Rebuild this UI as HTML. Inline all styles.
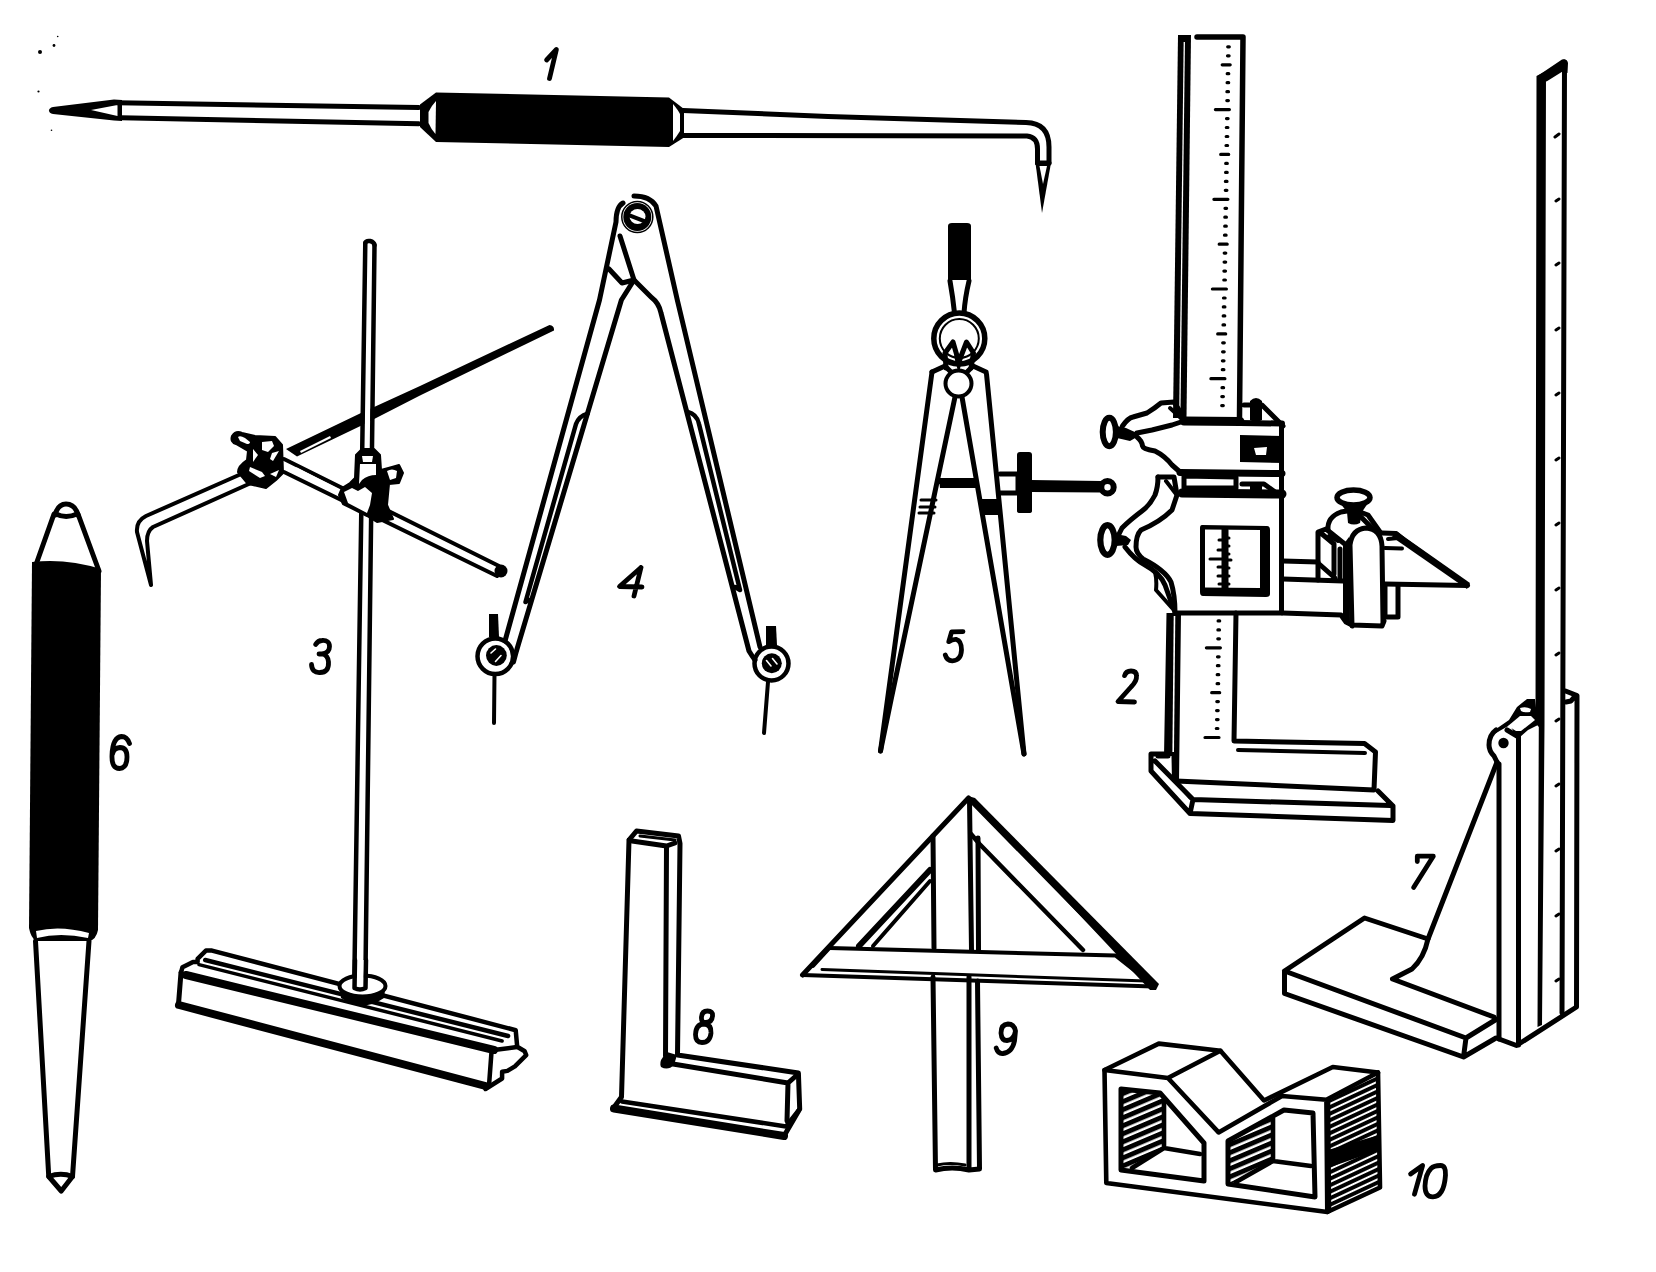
<!DOCTYPE html>
<html><head><meta charset="utf-8">
<style>
html,body{margin:0;padding:0;background:#fff;width:1656px;height:1272px;overflow:hidden}
svg{display:block}
.s{fill:none;stroke:#000;stroke-width:5;stroke-linecap:round;stroke-linejoin:round}
.m{fill:none;stroke:#000;stroke-width:4;stroke-linecap:round;stroke-linejoin:round}
.t{fill:none;stroke:#000;stroke-width:3;stroke-linecap:round;stroke-linejoin:round}
.f{fill:#000;stroke:none}
.fs{fill:#000;stroke:#000;stroke-width:2;stroke-linejoin:round}
.w{fill:#fff;stroke:none}
.ws{fill:#fff;stroke:#000;stroke-width:4;stroke-linejoin:round}
.lab{font-family:"Liberation Sans",sans-serif;font-style:italic;font-size:44px;fill:#000}
</style></head>
<body>
<svg width="1656" height="1272" viewBox="0 0 1656 1272">
<rect width="1656" height="1272" fill="#fff"/>

<!-- ============ 1: scriber ============ -->
<g id="t1">
  <path class="f" d="M53,107 L114,99.5 L122,100 L122,121 L114,120.5 L53,114 Q49,113 49,110.5 Q49,108 53,107 Z"/>
  <path class="w" d="M91,110 L117.5,105 L117.5,116 Z"/>
  <circle class="f" cx="40" cy="52" r="2"/><circle class="f" cx="54" cy="45.5" r="1.4"/><circle class="f" cx="57.7" cy="36.5" r="0.8"/><circle class="f" cx="38.5" cy="91.5" r="1.1"/><circle class="f" cx="51.5" cy="130.3" r="0.8"/>
  <path class="s" d="M117,102.7 L419,107.5 M121,117.7 L419,123.75"/>
  <path class="f" d="M420,104.5 L436,92.5 L669,97.5 L684,109 L684,137.5 L669,147 L436,142 L420,127 Z"/>
  <path class="w" d="M428.5,112 Q432,105 436,101 L435.5,134 Q431,129 428.5,123 Z"/>
  <path class="w" d="M673,104 Q678,110 680,114 L680,131 Q677,136 673,141 Z"/>
  <path class="s" d="M683,110.5 L828,116.5 L1026,122.5 Q1049,123 1049,147 L1049,163"/>
  <path class="s" d="M683,135.5 L1027,136 Q1037.5,137 1037.5,149 L1037.5,163"/>
  <path class="s" d="M1037.5,163 L1049,163"/>
  <path class="f" d="M1035.5,163 L1051,163 L1042,213 Z"/>
  <path class="w" d="M1039.5,166 L1047,166 L1043,184 Z"/>
</g>

<!-- ============ 6: center punch ============ -->
<g id="t6">
  <path class="s" d="M55,515 Q58,504 66,504 Q75,504 78,515"/>
  <path class="s" d="M56,514 Q66,519 77,514"/>
  <path class="s" d="M54,514 L35.5,566 M78,514 L99,571"/>
  <path class="f" d="M32,562 Q66,558 101,569 L98,930 Q96,940 89,941 L36,941 Q31,938 29,928 Z"/>
  <path class="w" d="M36,931 Q60,925 89,933 L88,938 Q60,932 37,938 Z"/>
  <path class="s" d="M35.5,941 L48.75,1176.5 L61.25,1191 L72.5,1176.5 L89,941"/>
  <path class="s" d="M48.75,1176.5 Q61,1172 72.5,1176.5"/>
</g>

<!-- ============ 3: surface gauge ============ -->
<g id="t3">
  <!-- rod -->
  <!-- needle -->
  <path class="f" d="M549.5,325 Q554.5,325.5 554,330.5 L420,395.5 L361,425.8 L297,456.5 L286,449 L361,413 L420,386 Z"/>
  <path class="w" d="M300,451 L330,436 L331,438 L301,453 Z"/>
  <path class="w" d="M367,244 L356.5,988 L363.5,988 L372.5,244 Z"/>
  <path class="s" style="stroke-width:4.5" d="M365.3,243 L354.2,988 M374.5,245 L365.3,988"/>
  <path class="s" style="stroke-width:4.5" d="M365.3,243 Q366,240.5 370,241 Q374,242 374.5,245"/>
  <!-- lower leg -->
  <path class="m" d="M284,459 L499,566 M284,472 L497,576"/>
  <circle class="f" cx="501" cy="571" r="6.5"/>
  <path class="w" d="M296,467 L490,567 L491,569 L297,469Z"/>
  <!-- left leg -->
  <path class="m" d="M248,471 L146,516 Q136,521 137,532 L151,585 M251,483 L153,527 Q147,531 147,541 L151,585"/>
  <!-- clamp nut -->
  <path class="fs" d="M242,433 Q236,430 232,436 Q230,442 236,444 L248,451 L247,460 Q238,466 238,472 L248,484 L266,488 L276,480 L283,473 L282,445 L275,437 L255,436 Z"/>
  <path class="w" d="M238,437 Q240,435 245,438 L250,442 Q250,444 247,444 L240,441 Z"/>
  <path class="w" d="M262,442 L272,441 L274,446 L268,452 L262,450 Z"/>
  <path class="w" d="M253,449 L258,455 L253,462 Z"/>
  <path class="w" d="M272,453 L279,451 L273,461 L270,459 Z"/>
  <path class="w" d="M250,467 L262,472 L265,476 L260,478 L249,471 Z"/>
  <path class="w" d="M270,474 L279,470 L276,477 Z"/>
  <!-- joint on rod -->
  <path class="fs" d="M356,455 L362,449 L374,449 L380,455 L381,470 L392,467 L399,465 L403,473 L399,483 L389,484 L387,505 L393,519 L377,522 L367,516 L343,504 L339,495 L342,488 L350,483 L355,478 Z"/>
  <path class="w" d="M360,464 L376,464 L376,475 Q368,475 362,480 L359,484 Z"/>
  <path class="w" d="M344,492 L352,488 L358,491 L365,487 L372,493 L370,505 L367,513 L348,503 Z"/>
  <path class="w" d="M387,471 Q392,468 397,471 L396,478 L390,480 Z"/>
  <path class="w" d="M362,456 L373,456 L372,462 L363,462Z"/>
  <!-- base -->
  <path class="s" style="stroke-width:4.5" d="M181,972.5 L182.5,967.2 L193,961.9 L197.6,961.9 L197.6,958.9 L205.9,950.6 L212,950.6 L515.7,1030.2 L517.2,1046.8 L524.7,1051.3 L526.2,1055.1 L514.9,1066.4 L507.4,1070.9 L502.1,1071.7 L502.1,1078.5 L485.5,1089"/>
  <path class="s" style="stroke-width:5" d="M181,972.5 L178.5,1004"/>
  <path class="s" style="stroke-width:8" d="M179,1005 L485.5,1086"/>
  <path class="s" style="stroke-width:8" d="M186,975 L494,1050"/>
  <path class="s" style="stroke-width:4.5" d="M491.5,1052 L489.2,1083 M494,1050 L517,1047"/>
  <path class="s" style="stroke-width:4.5" d="M205.2,960 L508.1,1036"/>
  <path class="s" style="stroke-width:3.5" d="M199,964.6 L502.1,1041"/>
  <!-- disc -->
  <path class="f" d="M339.5,986 L341,998 Q362,1013 384,998 L385.5,986 Q362,1000 339.5,986 Z"/>
  <ellipse class="ws" cx="362.5" cy="986" rx="23" ry="10.5"/>
  <path class="w" d="M357,960 L356.2,988 L363.5,988 L364.3,960 Z"/><path class="s" style="stroke-width:4.5" d="M355,960 L354.5,988 Q360,991 365.5,988 L366,960"/>
  
</g>

<!-- ============ 4: dividers ============ -->
<g id="t4">
  <circle class="f" cx="637.3" cy="217" r="14"/>
  <circle class="t" cx="637.3" cy="217" r="15.5" style="stroke-width:1.5"/>
  <ellipse class="w" cx="637.5" cy="216.5" rx="8" ry="7.5"/>
  <path class="f" d="M629,213 L647,220 L646,224 L628,217Z"/>
  <path class="s" d="M623,203 Q616,207 616,222 L599.5,300 L505,641"/>
  <path class="s" d="M634,196 Q650,196 656,206 L677.3,300 L760,647"/>
  <path class="s" d="M620,236 L634,280 L621.4,300 L518.5,644 Q516,652 513.5,662"/>
  <path class="s" d="M609,269 L622,283 L634,280"/>
  <path class="s" d="M634,280 L651,297 Q659,303 661,313 L749,651 Q752,656 755,660"/>
  <path class="s" style="stroke-width:4.5" d="M587.6,413.6 Q579,416 576,424 L525.5,602 L529,600"/>
  <path class="s" style="stroke-width:4.5" d="M687.2,411.6 Q697,414 699,424 L740,590 L735,587"/>
  <!-- feet -->
  <circle class="s" style="stroke-width:4.5" cx="495.3" cy="656.3" r="17.8"/>
  <circle class="f" cx="496.4" cy="655.5" r="10.4"/>
  <path d="M491,653 L495.5,649 M495.5,661.5 L501,655.5" stroke="#fff" stroke-width="1.6" stroke-linecap="round"/>
  <path class="f" d="M489,614 L498,614 L499,637 L489,637 Z"/>
  <path class="m" d="M494.5,674 L494,723"/>
  <circle class="s" style="stroke-width:4.5" cx="771.5" cy="663.5" r="17"/>
  <circle class="f" cx="771.8" cy="663.3" r="10"/>
  <path d="M766.5,660.5 L771,666 M772.5,658.5 L777,664" stroke="#fff" stroke-width="1.6" stroke-linecap="round"/>
  <path class="f" d="M766,626 L776,626 L777,645 L766,645 Z"/>
  <path class="m" d="M768,682 L764,733"/>
</g>

<!-- ============ 5: spring dividers ============ -->
<g id="t5">
  <path class="f" d="M948,226 Q948,223 952,223 L967,223 Q971,223 971,226 L971,280 L948,280 Z"/>
  <path class="s" d="M950,281 Q953,298 954.5,313 M969,281 Q965,298 964,313"/>
  <circle class="s" style="stroke-width:5.5" cx="959.3" cy="338.5" r="25.5"/>
  <circle class="t" style="stroke-width:2" cx="959.3" cy="338.5" r="19.5"/>
  <path class="s" d="M946,368 L945,353 L953,342 L958.8,362 L966.5,342 L973.5,353 L971,368"/><path class="f" d="M953,342 L958.8,362 L966.5,342 L962,360 L958.8,374 L955,360 Z"/>
  <path class="s" d="M932,372 L945,366 L951,372 M986,372 L973,366 L967,372"/>
  <circle class="ws" cx="958.5" cy="383.5" r="13"/>
  <path class="s" d="M932,372 L880.5,751 M986.5,374 L1024,754"/>
  <path class="s" d="M955,397 L891,700 L880.5,751 M962,397 L1024,754"/>
  <path class="s" d="M941,482 L975,482"/>
  <path class="f" d="M939,478 L976,478 L977,488 L940,488 Z"/>
  <path class="m" style="stroke-width:3" d="M921,500 L936,500 M920,507 L935,507 M919,513 L934,513"/>
  <path class="f" d="M981,499 L999,499 L1001,515 L983,515 Z"/>
  <path class="s" d="M1000,474 L1018,474 L1018,493 L1000,493"/>
  <path class="f" d="M1017,455 Q1017,452 1020,452 L1029,452 Q1032,452 1032,455 L1032,511 Q1032,513 1029,513 L1020,513 Q1017,513 1017,511 Z"/>
  <path class="f" d="M1031,480 L1101,481 L1101,492.5 L1031,492 Z"/>
  <circle class="s" style="stroke-width:6" cx="1107.5" cy="487.2" r="6.2"/>
</g>


<!-- ============ 2: height gauge ============ -->
<g id="t2">
  <!-- column upper -->
  <path class="f" d="M1178,35 L1191,35 L1186.5,418 L1173,418 Z"/><path d="M1184.3,42 L1179.8,416" stroke="#fff" stroke-width="1.3"/>
  <path class="t" style="stroke-width:3.2;stroke-linecap:round" d="M1227.7,46.8 L1229.3,46.8 M1227.5,55.8 L1229.1,55.8 M1222.2,64.8 L1230.2,64.8 M1227.2,73.7 L1228.8,73.7 M1227.1,82.7 L1228.7,82.7 M1226.9,91.7 L1228.5,91.7 M1226.8,100.6 L1228.4,100.6 M1215.4,109.6 L1229.4,109.6 M1226.5,118.6 L1228.1,118.6 M1226.3,127.5 L1227.9,127.5 M1226.2,136.5 L1227.8,136.5 M1226.0,145.5 L1227.6,145.5 M1220.7,154.4 L1228.7,154.4 M1225.7,163.4 L1227.3,163.4 M1225.6,172.4 L1227.2,172.4 M1225.4,181.4 L1227.0,181.4 M1225.3,190.3 L1226.9,190.3 M1213.9,199.3 L1227.9,199.3 M1225.0,208.3 L1226.6,208.3 M1224.8,217.2 L1226.4,217.2 M1224.7,226.2 L1226.3,226.2 M1224.5,235.2 L1226.1,235.2 M1219.2,244.2 L1227.2,244.2 M1224.2,253.1 L1225.8,253.1 M1224.1,262.1 L1225.7,262.1 M1223.9,271.1 L1225.5,271.1 M1223.8,280.0 L1225.4,280.0 M1212.4,289.0 L1226.4,289.0 M1223.5,298.0 L1225.1,298.0 M1223.3,306.9 L1224.9,306.9 M1223.2,315.9 L1224.8,315.9 M1223.0,324.9 L1224.6,324.9 M1217.7,333.9 L1225.7,333.9 M1222.7,342.8 L1224.3,342.8 M1222.6,351.8 L1224.2,351.8 M1222.4,360.8 L1224.0,360.8 M1222.3,369.7 L1223.9,369.7 M1210.9,378.7 L1224.9,378.7 M1222.0,387.7 L1223.6,387.7 M1221.8,396.6 L1223.4,396.6 M1221.7,405.6 L1223.3,405.6 M1218.1,620.9 L1219.7,620.9 M1217.9,629.9 L1219.5,629.9 M1217.8,638.8 L1219.4,638.8 M1206.4,647.8 L1220.4,647.8 M1217.5,656.8 L1219.1,656.8 M1217.4,665.7 L1219.0,665.7 M1217.2,674.7 L1218.8,674.7 M1217.1,683.7 L1218.7,683.7 M1211.7,692.7 L1219.7,692.7 M1216.8,701.6 L1218.4,701.6 M1216.6,710.6 L1218.2,710.6 M1216.5,719.6 L1218.1,719.6 M1216.3,728.5 L1217.9,728.5 M1205.0,737.5 L1219.0,737.5"/>
  <path class="s" style="stroke-width:5.5" d="M1197,37 L1243,37 L1239.5,418"/>
  
  <!-- column lower -->
  <path class="f" d="M1166.5,613 L1181,613 L1179,782 L1172,782 L1171.5,756 L1164,756 Z"/><path d="M1174.5,616 L1173.2,752" stroke="#fff" stroke-width="1.6"/><path class="s" d="M1236,613 L1234,741 L1364.5,743.5 L1375.5,752 L1374,790 L1176,781"/>
  <path class="m" d="M1238,750 L1365,753"/>
  <!-- base -->
  <path class="s" d="M1151,754 L1164,754 M1151,754 L1151,771 L1190,813.5 L1393,820.5 L1393,806 L1378,791 M1193,799.5 L1390,805.5 L1393,806 M1193,799.5 L1190,813.5 M1155,761 L1193,799.5 M1158,756 L1168,756"/>
  <path class="t" d="M1176,782 L1190,798"/>
  <!-- slider lower body -->
  <path class="s" d="M1175,613 L1281.5,613 L1281.5,424"/>
  <path class="s" style="stroke-width:9" d="M1184,421 L1240,421.5"/><path class="s" style="stroke-width:6" d="M1240,423 L1282,423.5"/>
  <path class="f" d="M1240,435 L1283,436 L1283,463 L1240,462 Z"/>
  <path class="w" d="M1254,448 L1267,447 L1266,455 L1256,455 Z"/>
  <path class="s" style="stroke-width:7" d="M1180,472.5 L1282,473.5"/>
  <path class="s" d="M1184,476 L1236,477 L1236,488 L1184,488 Z"/>
  <path class="s" style="stroke-width:9" d="M1182,493 L1282,494"/>
  <!-- nuts top-right -->
  <path class="f" d="M1250,401 Q1256,395 1262,401 L1262,420 Q1256,424 1250,420 Z"/>
  <path class="s" d="M1244,405 L1262,405 L1283,426"/>
  <path class="f" d="M1250,484 Q1256,480 1262,484 L1262,496 Q1256,500 1250,496 Z"/>
  <path class="s" d="M1242,484 L1264,484 L1282,497"/>
  <!-- vernier window -->
  <path class="f" d="M1202,525 L1267,526 Q1270,526 1270,530 L1270,594 Q1270,597 1266,597 L1203,596 Q1200,596 1200,592 L1200,528 Q1200,525 1202,525 Z"/><path class="w" d="M1205,529.5 L1260,530 L1260,588 L1205,587.5 Z"/>
  <path class="m" d="M1223.5,529 L1223.5,593 M1226.5,530 L1226.5,593"/>
  <path class="t" d="M1219,540 L1223,540 M1218,550 L1223,550 M1210,559 L1223,559 M1218,567 L1223,567 M1218,576 L1223,576 M1219,584 L1223,584"/>
  <path class="t" d="M1226,538 L1229,538 M1226,546 L1229,546 M1226,554 L1229,554 M1226,560 L1231,560 M1226,568 L1229,568 M1226,576 L1229,576 M1226,584 L1229,584"/>
  <!-- left wavy edges -->
  <path class="s" d="M1122.5,426 Q1128,418 1133,417 L1147,413 Q1155,408 1161,403 L1174,402 L1183,416"/>
  <path class="s" d="M1137,433 L1152,430 L1172,425 L1184,421"/>
  <path class="m" d="M1170,408 L1183,420"/>
  <path class="s" d="M1137,437 Q1142,441 1142.5,446 Q1143,449 1155,451 Q1165,456 1172,465 L1180,472"/>
  <path class="s" d="M1158,477 L1174,477 L1177,495 L1172,510 Q1160,522 1141,530 Q1136,535 1136,547 Q1136,553 1143,559 Q1165,570 1171,582 Q1175,595 1175,613"/>
  <path class="s" d="M1158,477 Q1158,487 1155,495 Q1150,505 1142,511 Q1130,520 1122,528 L1118,536"/>
  <path class="s" d="M1125,547 Q1135,560 1145,565 Q1160,573 1165,585 L1174,610"/>
  <path class="m" d="M1155,572 Q1157,580 1156,590 L1172,608 M1166,481 L1176,494"/>
  <!-- thumbscrews -->
  <ellipse class="s" style="stroke-width:6" cx="1109.3" cy="432" rx="6.6" ry="14.2"/>
  <path class="f" d="M1117,426 L1126,428 L1137,433 L1137,437 L1130,441 L1117,438 Z"/>
  <ellipse class="s" style="stroke-width:6.2" cx="1107.5" cy="540" rx="7.2" ry="14.8"/>
  <path class="f" d="M1116,534 L1126,536 L1131,540 L1128,545 L1116,546 Z"/>
  <!-- screw rod from 5 -->
  <!-- arm -->
  <path class="s" d="M1283,561 L1318,562 M1283,579 L1343,581 M1283,613 L1341,615 L1346,622 L1352,625 L1382,626 L1384,621 M1318,563 L1335,578"/>
  <path class="s" d="M1318,580 L1318,532 L1326,529 L1346,545 M1322,534 L1334,544 L1334,574 M1340,549 L1340,580"/>
  <path class="m" d="M1329,536 L1338,541"/>
  <!-- holder -->
  <path class="s" d="M1352,626 L1350,545 Q1352,529 1366,528 Q1381,529 1382,546 L1383,622"/>
  <path class="f" d="M1343,545 L1349,537 L1350,626 L1343,620 Z"/>
  <path class="s" d="M1328,530 Q1327,517 1341,512 L1347,511 M1360,512 L1368,515 L1380,532"/>
  <path class="s" d="M1360,516 L1372,528"/>
  <!-- knob -->
  <ellipse class="ws" style="stroke-width:5.5" cx="1353.5" cy="497.5" rx="16.5" ry="7.5"/>
  <path class="f" d="M1340,503 Q1353,510 1368,503 L1362,512 L1360,523 Q1354,526 1348,523 L1347,512 Z"/>
  <!-- blade -->
  <path class="s" d="M1382,533 L1396,533.5 L1404,540 L1467.5,585.5 L1385,584"/>
  <path class="f" d="M1396,531 L1470,583 L1467,589 L1392,537 Z"/>
  <path class="m" d="M1385,548 L1402,548.5 M1388,539 L1398,538"/>
  <path class="s" d="M1385,585 L1385,617 L1398,617 L1398,586"/>
</g>

<!-- ============ 7: ruler on stand ============ -->
<g id="t7">
  <path class="f" d="M1536.5,76 L1546,71 L1544.5,725 L1542,1025 L1537.5,1027 L1538.8,727 L1535.5,723 Z"/>
  <path class="f" d="M1537.5,76 L1562,59.5 Q1567,58.5 1568,63 L1567.5,73 L1562.5,71.5 L1546.5,81.5 Z"/><path class="s" d="M1564.5,62 L1562,1013"/>
  <path class="t" d="M1555,137 L1559,134 M1556,201 L1559,199 M1556,265 L1559,263 M1556,330 L1559,328 M1556,395 L1559,393 M1556,460 L1559,458 M1556,525 L1559,523 M1556,590 L1559,588 M1556,655 L1559,653 M1556,721 L1559,719 M1556,786 L1559,784 M1556,851 L1559,849 M1556,916 L1559,914 M1556,981 L1559,979"/>
  <path class="s" d="M1565.5,691 L1577,695.5 L1576.5,1007 L1516.5,1045.5 L1499,1039 M1575,696 L1571,701 L1566,702"/>
  <path class="s" d="M1499,764 L1499,1039 M1518.5,736 L1518.5,1045"/>
  <path class="f" d="M1489,737 L1496,729 L1509,720 L1517,707 L1527,699 L1535,699 L1538,725 L1528,730 L1520,737 L1517,738 L1510,725 Z"/>
  <path class="w" d="M1520,708 Q1526,706 1531,709 L1530,712 Q1524,713 1521,711 Z"/>
  <path class="w" d="M1508,726 L1520,716 L1531,716 L1535,720 L1521,731 L1516,731 Z"/>
  <path class="s" d="M1496,730 Q1489,735 1489,745 Q1489,751 1494,756 L1497,762 M1507,730 L1517,736"/>
  <circle class="f" cx="1503.5" cy="743" r="5.2"/>
  <path class="s" d="M1497,762 L1428,939 Q1424,958 1412,969 L1392.5,979 L1494,1017"/>
  <path class="s" d="M1428,939 L1364.5,918 L1284.5,971 L1466,1038 L1496,1019.5 M1284.5,971 L1284.5,993.5 L1463.5,1057 L1496,1038 M1466,1038 L1463.5,1057"/>
</g>

<!-- ============ 8: square ============ -->
<g id="t8">
  <path class="s" d="M629,840 L636.5,831 L678.5,836 L680,843.5 L677.5,1055 L798.4,1073 L799.7,1109 L784,1136 L613.5,1108 L621.5,1097 L629,840"/>
  <path class="s" d="M632,841 L666.5,846 L675,843 M666.5,846 L665.5,1056"/>
  <path class="t" d="M640,836 L675,840"/>
  <path class="s" d="M673,1064 L788,1083 L797,1075 M788,1083 L787,1121"/>
  <path class="f" d="M667,1052 L677,1055 L674,1065 Q668,1071 661,1067 Q659,1062 663,1057 Z"/>
  <path class="s" style="stroke-width:8" d="M614,1108.5 L784,1136"/>
  <path class="s" style="stroke-width:4.5" d="M622,1101.5 L786,1126.5 L799,1110"/>
</g>

<!-- ============ 9: try square ============ -->
<g id="t9">
  <path class="s" d="M1153,986.5 L968.5,798 L802.5,975"/><path class="m" style="stroke-width:4" d="M802.5,975 L1153,986.5"/>
  <path class="f" d="M968,796 L975,798 L1159,984 L1156,990 L1150,990 Z"/>
  <path class="t" d="M822,969.5 L1146,981"/>
  <path class="m" d="M829.5,948 L1115.5,955.5 L1149,982"/>
  <path class="m" d="M829.5,948 L813,966"/>
  <path class="s" d="M933,836 L934,948 M969.5,800 L971.5,950 M978,838 L978.5,950"/>
  <path class="s" style="stroke-width:6" d="M930,870 L859,946"/>
  <path class="m" d="M930,881 L873,946"/>
  <path class="s" style="stroke-width:4.5" d="M971,834 L979.5,844 L1083,950"/>
  <path class="s" d="M933,977 L935.5,1170 Q952,1166 969,1170 L969,977 M977.5,981 L979.5,1169 L969,1170"/>
  <path class="t" d="M937,1165 Q950,1162 965,1165"/>
</g>

<!-- ============ 10: V-block ============ -->
<defs>
  <pattern id="h1" patternUnits="userSpaceOnUse" width="20" height="7.4" patternTransform="rotate(-23)">
    <rect x="0" y="0" width="20" height="4.9" fill="#000"/>
  </pattern>
  <pattern id="h2" patternUnits="userSpaceOnUse" width="20" height="5.9" patternTransform="rotate(-25)">
    <rect x="0" y="0" width="20" height="3.9" fill="#000"/>
  </pattern>
</defs>
<g id="t10">
  <path fill="url(#h1)" d="M1121,1089 L1160,1093 L1164,1100 L1164,1148 L1131,1168 L1121,1170 Z"/>
  <path fill="url(#h1)" d="M1228,1141 L1273,1116 L1273,1161 L1235,1182 L1228,1184 Z"/>
  <path fill="url(#h2)" d="M1328,1101 L1378,1074 L1380,1187 L1328,1211 Z"/>
  <path class="f" d="M1328,1150 L1379,1135 L1379,1150 L1328,1168 Z"/>
  <path class="s" style="stroke-width:4.6" d="M1104.5,1070 L1158.8,1043.6 L1220.4,1050.8 L1264,1100.5 L1332.8,1067 L1378,1072.5 L1380,1187.5 L1327.3,1212 L1106.3,1183 Z"/>
  <path class="s" style="stroke-width:4.6" d="M1104.5,1070 L1167.9,1078 L1218.6,1132.4 L1282,1096 L1326.4,1099.7 L1327.3,1212 M1167.9,1078 L1220.4,1050.8 M1326.4,1099.7 L1378,1072.5"/>
  <!-- left window -->
  <path class="s" style="stroke-width:5" d="M1121,1089 L1160,1093 L1204,1143 L1204,1181 L1121,1170 Z"/>
  <path class="s" style="stroke-width:4.6" d="M1164,1100 L1164,1148 L1200,1154 M1164,1148 L1132,1168"/>
  <!-- right window -->
  <path class="s" style="stroke-width:5" d="M1228,1141 L1284,1110 L1313,1113 L1315,1197 L1228,1184 Z"/>
  <path class="s" style="stroke-width:4.6" d="M1273,1118 L1273,1161 L1311,1166 M1273,1161 L1236,1182"/>
  <path class="s" style="stroke-width:4.6" d="M1328,1101 L1329,1211"/>
</g>

<!-- labels -->
<g class="s" style="stroke-width:4.8">
  <path d="M546.6,60 L556.4,49.5 L549.5,78.5"/>
  <path d="M1124.6,675.6 Q1126,671 1131,671 Q1136.5,671 1136.5,676 Q1137,681 1131,687 L1118,701.5 L1134.5,702"/>
  <path d="M315.6,644.5 Q318,640.5 322,640.5 Q329.5,640 329.5,646.5 Q329.5,653 322,654 L319,654 L322,654 Q328,655 328.5,662 Q329,672.5 320,672.5 Q312,673 311.5,664.5"/>
  <path d="M641,567.5 L619.5,586.5 L642,587 M641,567.5 L634,596"/>
  <path d="M963,631.6 L951.6,631.9 L948.8,641.6 Q953,639 956.5,639.5 Q961.5,641 961.5,650 Q961,660.5 952.5,660.8 Q947,661 945.3,655"/>
  <path d="M129.5,743.5 Q127,736.5 121.5,736.5 Q112.5,737.5 112,755.5 Q111.5,768.5 119.5,768.5 Q127,768 127,757 Q127,747.5 120,747.5 Q113.5,748 112.5,754"/>
  <path d="M1417.3,861.5 L1417.3,856.2 L1433.3,856.2 L1413.6,887.5"/>
  <path d="M707.5,1011 Q713,1011 712.5,1016 Q712,1022.5 705.5,1022.5 Q701,1022.5 701.5,1017 Q702,1011 707.5,1011 Z"/>
  <path d="M704,1024 Q711.5,1024.5 711,1033 Q710,1042.5 702,1042.5 Q695.5,1042.5 695.5,1034.5 Q696,1024 704,1024 Z"/>
  <path d="M1015.5,1031 Q1014,1024 1008,1024 Q1001,1024.5 1001,1033 Q1001.5,1040.5 1007,1040.5 Q1014,1040 1015.5,1031 L1014.5,1041 Q1012,1052.5 1003,1053.5 Q998,1054 996.2,1048"/>
  <path d="M1410.6,1174 L1422.6,1165.5 L1414.5,1194.2"/>
  <path d="M1440.5,1165.5 Q1446,1165.5 1445.5,1175 Q1444,1196.5 1433,1196.8 Q1425,1197 1425,1186 Q1425.5,1174 1431,1168.5 Q1434,1165.5 1440.5,1165.5 Z"/>
</g>

</svg>
</body></html>
